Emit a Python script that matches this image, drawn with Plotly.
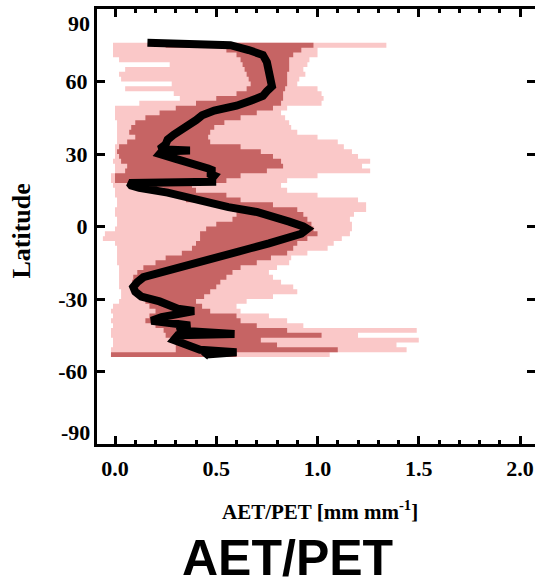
import plotly.graph_objects as go

# Band latitudes (deg)
band_lat = [76, 74, 72, 70, 68, 66, 64, 62, 60, 58, 56, 54, 52, 50, 48, 46, 44, 42, 40, 38,
            36, 34, 32, 30, 28, 26, 24, 22, 20, 18, 16, 14, 12, 10, 8, 6, 4, 2, 0, -2,
            -4, -6, -8, -10, -12, -14, -16, -18, -20, -22, -24, -26, -28, -30, -32, -34, -36, -38, -40, -42,
            -44, -46, -48, -50, -52, -54]
light_lo = [-0.01, -0.01, -0.01, -0.01, 0.02, 0.27, 0.05, 0.02, 0.03, 0.28, 0.05, 0.29, 0.32, 0.12, 0.0, 0.0, 0.0, 0.01, 0.01, 0.01,
            0.01, 0.01, 0.0, 0.0, 0.0, -0.01, 0.0, 0.0, -0.02, -0.02, -0.01, 0.0, 0.0, 0.01, 0.01, 0.0, 0.0, 0.01, 0.01, 0.0,
            -0.05, -0.06, 0.0, 0.01, 0.01, 0.01, 0.01, 0.02, 0.02, 0.02, 0.02, 0.02, 0.03, 0.03, 0.02, -0.01, -0.02, -0.01, -0.02, -0.01,
            -0.02, -0.02, -0.01, -0.01, -0.02, -0.02]
dark_lo = [0.04, 0.25, 0.55, 0.6, 0.62, 0.63, 0.64, 0.65, 0.66, 0.67, 0.65, 0.6, 0.5, 0.4, 0.3, 0.22, 0.15, 0.1, 0.08, 0.07,
           0.1, 0.06, 0.02, 0.01, 0.02, 0.03, 0.06, 0.05, 0.0, 0.0, 0.15, 0.24, 0.3, 0.35, 0.5, 0.58, 0.6, 0.58, 0.5, 0.45,
           0.42, 0.42, 0.4, 0.38, 0.33, 0.25, 0.2, 0.14, 0.11, 0.09, 0.085, 0.085, 0.1, 0.13, 0.15, 0.17, 0.2, 0.17, 0.15, 0.2,
           0.24, 0.25, 0.28, 0.3, 0.3, -0.02]
dark_hi = [0.98, 0.92, 0.88, 0.86, 0.86, 0.86, 0.85, 0.85, 0.85, 0.84, 0.83, 0.83, 0.82, 0.78, 0.7, 0.62, 0.54, 0.49, 0.47, 0.46,
           0.47, 0.62, 0.72, 0.78, 0.82, 0.83, 0.75, 0.62, 0.55, 0.38, 0.4, 0.55, 0.62, 0.78, 0.9, 0.93, 0.95, 0.97, 0.98, 1.0,
           0.95, 0.9, 0.88, 0.85, 0.77, 0.7, 0.62, 0.58, 0.55, 0.52, 0.5, 0.47, 0.44, 0.4, 0.43, 0.47, 0.6, 0.62, 0.7, 0.85,
           1.02, 0.72, 0.8, 1.1, 0.6, 0.3]
light_hi = [1.34, 1.0, 1.0, 0.96, 0.95, 0.93, 0.94, 0.91, 0.9, 1.0, 1.02, 1.03, 1.02, 0.85, 0.82, 0.84, 0.86, 0.87, 0.9, 1.0,
            1.1, 1.13, 1.17, 1.2, 1.26, 1.22, 1.26, 1.0, 0.85, 0.82, 0.85, 1.0, 1.2, 1.24, 1.24, 1.18, 1.16, 1.17, 1.17, 1.16,
            1.12, 1.08, 1.05, 0.95, 0.87, 0.86, 0.8, 0.76, 0.78, 0.82, 0.88, 0.9, 0.78, 0.65, 0.6, 0.62, 0.76, 0.85, 0.93, 1.49,
            1.2, 1.5, 1.39, 1.44, 1.06, 0.3]

# Median line
med_lat = [76, 75.5, 75, 73, 71, 68, 65, 62, 60, 58, 56, 54, 52, 50, 48, 46, 44, 42, 40, 38,
           36, 34, 32, 31.5, 31, 30, 28, 26, 24, 23, 22, 21, 20, 18.5, 18, 17, 16, 14, 12, 10,
           8, 6, 4, 2, 0, -1, -3, -5, -7, -9, -11, -13, -15, -17, -19, -21, -23, -25, -27, -29,
           -31, -33, -34, -35, -36, -37.5, -39, -40, -41, -42, -43, -44.5, -45, -47, -49, -51, -52, -53, -54]
med_val = [0.16, 0.45, 0.57, 0.66, 0.73, 0.75, 0.76, 0.76, 0.77, 0.775, 0.75, 0.73, 0.67, 0.6, 0.49, 0.43, 0.4, 0.36, 0.33, 0.29,
           0.26, 0.25, 0.22, 0.37, 0.23, 0.22, 0.3, 0.4, 0.46, 0.49, 0.46, 0.49, 0.48, 0.48, 0.07, 0.08, 0.12, 0.26, 0.36, 0.44,
           0.56, 0.7, 0.8, 0.86, 0.93, 0.95, 0.92, 0.85, 0.76, 0.67, 0.58, 0.49, 0.39, 0.29, 0.2, 0.14, 0.11, 0.09, 0.1, 0.13,
           0.22, 0.29, 0.31, 0.39, 0.3, 0.23, 0.18, 0.28, 0.37, 0.33, 0.31, 0.59, 0.31, 0.29, 0.35, 0.42, 0.6, 0.45, 0.44]

x_ticks = [0.0, 0.5, 1.0, 1.5, 2.0]
x_labels = ["0.0", "0.5", "1.0", "1.5", "2.0"]
y_ticks = [-60, -30, 0, 30, 60]
y_labels = ["-60", "-30", "0", "30", "60"]
y_end_labels = ["90", "-90"]

LIGHT = "rgb(250,200,200)"
DARK = "rgb(198,100,100)"

fig = go.Figure()
fig.add_trace(go.Scatter(
    x=light_lo + light_hi[::-1], y=band_lat + band_lat[::-1],
    fill="toself", fillcolor=LIGHT, line=dict(width=0, shape="hv"), mode="lines",
    hoverinfo="skip", showlegend=False))
fig.add_trace(go.Scatter(
    x=dark_lo + dark_hi[::-1], y=band_lat + band_lat[::-1],
    fill="toself", fillcolor=DARK, line=dict(width=0, shape="hv"), mode="lines",
    hoverinfo="skip", showlegend=False))
fig.add_trace(go.Scatter(
    x=med_val, y=med_lat, mode="lines", line=dict(color="black", width=8),
    showlegend=False))

tickfont = dict(family="Liberation Serif", size=22, color="black", weight="bold")

annotations = [
    dict(text=y_end_labels[0], xref="paper", yref="y", x=0, y=90, xanchor="right", yanchor="top",
         xshift=-5, yshift=0, showarrow=False, font=tickfont),
    dict(text=y_end_labels[1], xref="paper", yref="y", x=0, y=-90, xanchor="right", yanchor="bottom",
         xshift=-5, yshift=-3, showarrow=False, font=tickfont),
    dict(text="Latitude", xref="paper", yref="paper", x=-0.172, y=0.49, xanchor="center", yanchor="middle",
         textangle=-90, showarrow=False,
         font=dict(family="Liberation Serif", size=26, color="black", weight="bold")),
    dict(text="AET/PET [mm mm<sup>-1</sup>]", xref="paper", yref="paper", x=0.508, y=-0.152,
         xanchor="center", yanchor="middle", showarrow=False,
         font=dict(family="Liberation Serif", size=21, color="black", weight="bold")),
    dict(text="AET/PET", xref="paper", yref="paper", x=0.434, y=-0.262,
         xanchor="center", yanchor="middle", showarrow=False,
         font=dict(family="Liberation Sans", size=50, color="black", weight="bold")),
]

fig.update_layout(
    width=535, height=582,
    margin=dict(l=97, r=0, t=9, b=138),
    paper_bgcolor="white", plot_bgcolor="white",
    xaxis=dict(range=[-0.089, 2.074], tickvals=x_ticks, ticktext=x_labels, automargin=False,
               ticks="inside", ticklen=8, tickwidth=3, tickcolor="black",
               minor=dict(dtick=0.1, ticks="inside", ticklen=4, tickwidth=3, tickcolor="black"),
               showline=True, linewidth=3, linecolor="black", mirror="ticks",
               showgrid=False, zeroline=False, tickfont=tickfont, ticklabelstandoff=3),
    yaxis=dict(range=[-90, 90], tickvals=y_ticks, ticktext=y_labels, automargin=False,
               ticks="inside", ticklen=8, tickwidth=3, tickcolor="black",
               showline=True, linewidth=3, linecolor="black", mirror="ticks",
               showgrid=False, zeroline=False, tickfont=tickfont, ticklabelstandoff=2),
    annotations=annotations,
)

fig.write_html("out.html", config={"displayModeBar": False},
               post_script="document.body.style.margin='0';document.body.style.overflow='hidden';")
